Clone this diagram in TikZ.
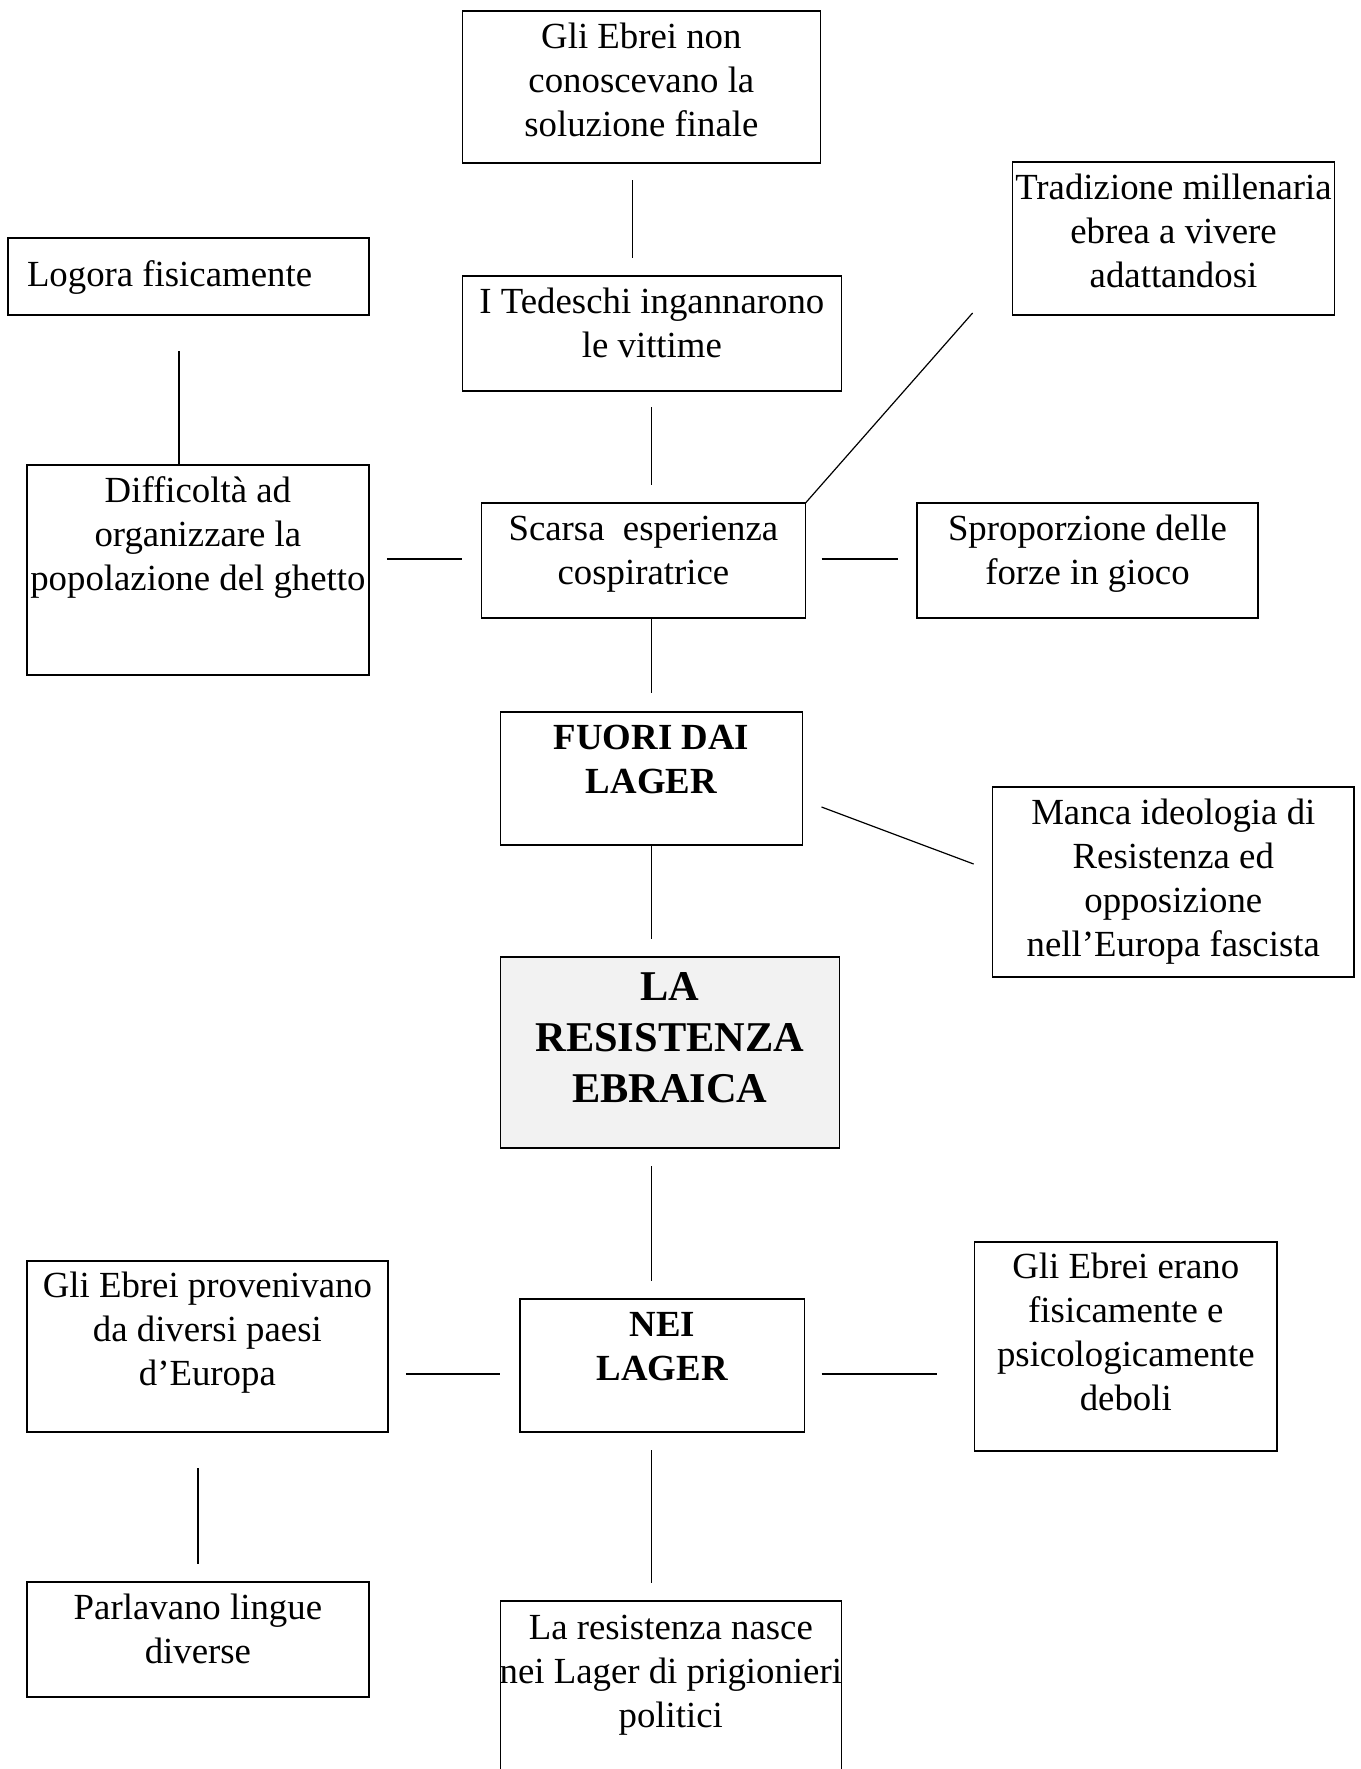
\documentclass[tikz,border=0pt]{standalone}
\usepackage{fontspec}
\setmainfont{Liberation Serif}
\definecolor{centerfill}{HTML}{F2F2F2}
\newcommand\bt[4][3.1pt]{\parbox[c][#3][t]{#2}{\vspace*{#1}\centering\makebox[0pt]{\begin{tabular}[t]{@{}c@{}}#4\end{tabular}}}}
\tikzset{
  bx/.style={draw=black, line width=0.7pt, inner sep=0pt, outer sep=0pt, anchor=north west, font=\fontsize{18.4}{22}\selectfont},
  bxb/.style={bx, font=\fontsize{18.4}{22}\selectfont\bfseries},
  ln/.style={line width=0.6pt}
}
\begin{document}
\begin{tikzpicture}[x=0.5pt, y=-0.5pt]
\useasboundingbox (0,0) rectangle (1361,1769);
\clip (0,0) rectangle (1361,1769);
\fill[white] (0,0) rectangle (1361,1769);

% boxes
\node[bx] (b1) at (462.4,11) {\bt{179pt}{76pt}{Gli Ebrei non\\conoscevano la\\soluzione finale}};
\node[bx] (trad) at (1012.4,162) {\bt{161.1pt}{76.5pt}{Tradizione millenaria\\ebrea a vivere\\adattandosi}};
\node[bx] (logora) at (8,238) {\parbox[c][38.5pt][t]{180.5pt}{\vspace*{8.85pt}\raggedright\hspace*{9.5pt}\strut Logora fisicamente}};
\node[bx] (ted) at (462.4,276) {\bt{189.5pt}{57.5pt}{I Tedeschi ingannarono\\le vittime}};
\node[bx] (diff) at (26.9,465) {\bt{171pt}{105pt}{Difficoltà ad\\organizzare la\\popolazione del ghetto}};
\node[bx] (scarsa) at (481.3,503) {\bt{162.1pt}{57.5pt}{Scarsa\ \ esperienza\\cospiratrice}};
\node[bx] (sprop) at (916.9,503) {\bt{170.6pt}{57.5pt}{Sproporzione delle\\forze in gioco}};
\node[bxb] (fuori) at (500.2,712) {\bt{151.2pt}{66.5pt}{FUORI DAI\\LAGER}};
\node[bx] (manca) at (992.5,787) {\bt{180.8pt}{95pt}{Manca ideologia di\\Resistenza ed\\opposizione\\nell’Europa fascista}};
\node[bx, fill=centerfill, font=\fontsize{21.2}{25.5}\selectfont\bfseries] (res) at (500.2,957) {\bt[3.65pt]{169.6pt}{95.5pt}{LA\\RESISTENZA\\EBRAICA}};
\node[bx] (prov) at (26.9,1261) {\bt[2.6pt]{180.5pt}{85.5pt}{Gli Ebrei provenivano\\da diversi paesi\\d’Europa}};
\node[bxb] (nei) at (520.1,1299) {\bt{142.2pt}{66.5pt}{NEI\\LAGER}};
\node[bx] (erano) at (974.6,1242) {\bt[2.6pt]{151.2pt}{104.5pt}{Gli Ebrei erano\\fisicamente e\\psicologicamente\\deboli}};
\node[bx] (parl) at (26.9,1582) {\bt{171pt}{57.5pt}{Parlavano lingue\\diverse}};
\node[bx] (nasce) at (500.2,1601) {\bt[3.6pt]{170.6pt}{92pt}{La resistenza nasce\\nei Lager di prigionieri\\politici}};

% connector end points
\coordinate (c1a) at (632.5,180);  \coordinate (c1b) at (632.5,258);
\coordinate (c2a) at (179,351);    \coordinate (c2b) at (179,465);
\coordinate (c3a) at (651.4,407);  \coordinate (c3b) at (651.4,485);
\coordinate (c4a) at (972.6,313);
\coordinate (c5a) at (386.9,559);  \coordinate (c5b) at (462.4,559);
\coordinate (c6a) at (821.5,559);  \coordinate (c6b) at (898,559);
\coordinate (c7a) at (651.4,618);  \coordinate (c7b) at (651.4,693);
\coordinate (c8a) at (651.4,845);  \coordinate (c8b) at (651.4,939);
\coordinate (c9a) at (821.5,807);  \coordinate (c9b) at (973.6,864);
\coordinate (c10a) at (651.4,1166); \coordinate (c10b) at (651.4,1281);
\coordinate (c11a) at (405.8,1374); \coordinate (c11b) at (500.2,1374);
\coordinate (c12a) at (821.5,1374); \coordinate (c12b) at (936.8,1374);
\coordinate (c13a) at (197.9,1468); \coordinate (c13b) at (197.9,1564);
\coordinate (c14a) at (651.4,1450); \coordinate (c14b) at (651.4,1583);

% connectors
\draw[ln] (c1a) -- (c1b);
\draw[ln] (c2a) -- (c2b);
\draw[ln] (c3a) -- (c3b);
\draw[ln] (c4a) -- (scarsa.north east);
\draw[ln] (c5a) -- (c5b);
\draw[ln] (c6a) -- (c6b);
\draw[ln] (c7a) -- (c7b);
\draw[ln] (c8a) -- (c8b);
\draw[ln] (c9a) -- (c9b);
\draw[ln] (c10a) -- (c10b);
\draw[ln] (c11a) -- (c11b);
\draw[ln] (c12a) -- (c12b);
\draw[ln] (c13a) -- (c13b);
\draw[ln] (c14a) -- (c14b);
\end{tikzpicture}
\end{document}
